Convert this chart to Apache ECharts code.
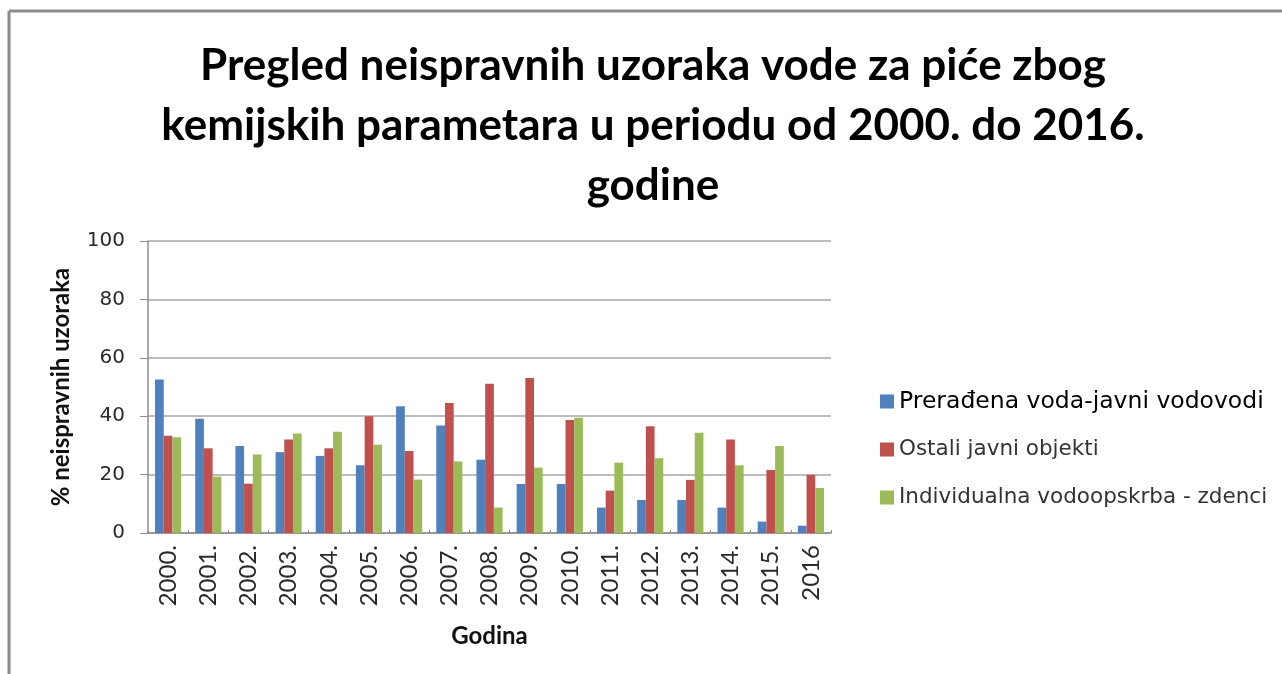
<!DOCTYPE html>
<html>
<head>
<meta charset="utf-8">
<script src="https://cdn.jsdelivr.net/npm/echarts@6/dist/echarts.min.js"></script>
<style>
  html, body { margin: 0; padding: 0; background: #fff; }
  #chart { width: 1282px; height: 674px; }
</style>
</head>
<body>
<div id="chart"></div>
<script>
// Years on the category axis
const years = ['2000.', '2001.', '2002.', '2003.', '2004.', '2005.', '2006.', '2007.', '2008.',
  '2009.', '2010.', '2011.', '2012.', '2013.', '2014.', '2015.', '2016'];

// Share of non-compliant samples (%) per supply type
const javniVodovodi = [52.6, 39.1, 29.8, 27.7, 26.4, 23.2, 43.4, 36.8, 25.1, 16.8, 16.8, 8.7, 11.3, 11.3, 8.7, 3.9, 2.5];
const ostaliObjekti = [33.3, 29.0, 16.9, 32.0, 29.0, 40.0, 28.1, 44.5, 51.1, 53.1, 38.7, 14.5, 36.6, 18.2, 32.0, 21.6, 19.9];
const zdenci = [32.8, 19.3, 26.9, 34.1, 34.7, 30.2, 18.3, 24.5, 8.7, 22.4, 39.5, 24.1, 25.6, 34.3, 23.2, 29.8, 15.4];

const seriesNames = ['Prerađena voda-javni vodovodi', 'Ostali javni objekti', 'Individualna vodoopskrba - zdenci'];
const seriesColors = ['#4f81bd', '#c0504d', '#9bbb59'];
const yTicks = [0, 20, 40, 60, 80, 100];

const FONT = 'Lato, "Open Sans", sans-serif';
const WIDE_FONT = '"DejaVu Sans", "Open Sans", sans-serif';

const chart = echarts.init(document.getElementById('chart'), null, { renderer: 'canvas' });

const seriesData = [javniVodovodi, ostaliObjekti, zdenci];

chart.setOption({
  animation: false,
  backgroundColor: '#ffffff',
  title: {
    text: 'Pregled neispravnih uzoraka vode za piće zbog\nkemijskih parametara u periodu od 2000. do 2016.\ngodine',
    left: 648,
    top: 31,
    textAlign: 'center',
    textStyle: {
      fontFamily: FONT,
      fontWeight: 'bold',
      fontSize: 44,
      lineHeight: 60,
      color: '#000'
    }
  },
  graphic: [
    { type: 'line', shape: { x1: 9, y1: 11, x2: 1282, y2: 11 }, style: { stroke: '#8a8a8a', lineWidth: 3 } },
    { type: 'line', shape: { x1: 9, y1: 11, x2: 9, y2: 674 }, style: { stroke: '#8a8a8a', lineWidth: 3 } }
  ],
  legend: {
    orient: 'vertical',
    left: 875,
    top: 384,
    itemGap: 23,
    itemWidth: 14,
    itemHeight: 14,
    icon: 'rect',
    data: [
      { name: seriesNames[0], textStyle: { fontSize: 23.5, lineHeight: 25, color: '#000' } },
      { name: seriesNames[1], textStyle: { fontSize: 21.5, lineHeight: 25, color: '#333' } },
      { name: seriesNames[2], textStyle: { fontSize: 21.5, lineHeight: 25, color: '#333' } }
    ],
    textStyle: { fontFamily: WIDE_FONT }
  },
  grid: {
    left: 148,
    right: 451,
    top: 241,
    bottom: 141,
    containLabel: false
  },
  xAxis: {
    type: 'category',
    data: years,
    name: 'Godina',
    nameLocation: 'middle',
    nameGap: 91,
    nameTextStyle: { fontFamily: FONT, fontWeight: 'bold', fontSize: 24, color: '#111' },
    axisLine: { lineStyle: { color: '#8c8c8c', width: 1.5 } },
    axisTick: { show: true, inside: true, length: 3, lineStyle: { color: '#8c8c8c' } },
    axisLabel: {
      rotate: 90,
      margin: 12,
      fontFamily: FONT,
      fontSize: 24,
      color: '#2a2a2a'
    }
  },
  yAxis: {
    type: 'value',
    min: 0,
    max: 100,
    interval: 20,
    name: '% neispravnih uzoraka',
    nameLocation: 'middle',
    nameGap: 75,
    nameRotate: 90,
    nameTextStyle: { fontFamily: FONT, fontWeight: 'bold', fontSize: 24, color: '#111' },
    axisLine: { show: true, lineStyle: { color: '#8c8c8c', width: 1.5 } },
    axisTick: { show: true, inside: false, length: 8, lineStyle: { color: '#8c8c8c' } },
    axisLabel: {
      margin: 23,
      fontFamily: WIDE_FONT,
      fontSize: 20,
      color: '#2a2a2a',
      formatter: v => (yTicks.indexOf(v) >= 0 ? String(v) : '')
    },
    splitLine: { show: true, lineStyle: { color: '#a6a6a6', width: 1.5 } }
  },
  series: seriesNames.map((name, i) => ({
    name: name,
    type: 'bar',
    data: seriesData[i],
    barGap: '0%',
    barCategoryGap: '35%',
    itemStyle: { color: seriesColors[i] }
  }))
});
</script>
</body>
</html>
